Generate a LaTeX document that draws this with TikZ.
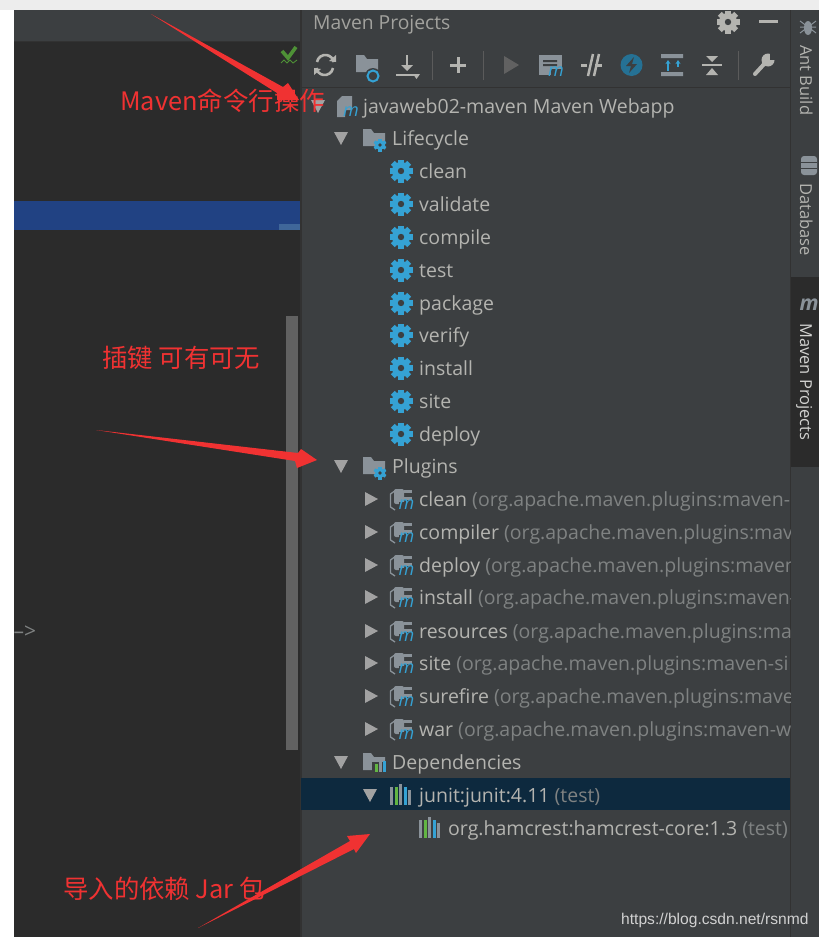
\documentclass[tikz,border=0pt]{standalone}
\usepackage{fontspec}
\setmainfont{Open Sans}
\newfontfamily\cjk{Noto Sans CJK SC}
\newfontfamily\wmfont{Liberation Sans}
\usetikzlibrary{arrows.meta,positioning}
\definecolor{panelbg}{HTML}{3C3F41}
\definecolor{editorbg}{HTML}{2B2B2B}
\definecolor{seam}{HTML}{323232}
\definecolor{rowtxt}{HTML}{B4B4B0}
\definecolor{dimtxt}{HTML}{7F8282}
\definecolor{iconblue}{HTML}{35A2D4}
\definecolor{icongrey}{HTML}{8A9299}
\definecolor{trigrey}{HTML}{A2A2A2}
\definecolor{bargreen}{HTML}{62B543}
\definecolor{arrowred}{HTML}{F03232}
\definecolor{linehl}{HTML}{214283}
\definecolor{rowsel}{HTML}{0D293E}
\tikzset{
    rowlabel/.style={anchor=base west, inner sep=0pt, text=rowtxt, font=\fontsize{19.5}{24}\selectfont},
    sidelabel/.style={anchor=base west, inner sep=0pt, rotate=-90, text=#1, font=\fontsize{16.5}{20}\selectfont},
    note/.style={anchor=base west, inner sep=0pt, text=arrowred, font=\cjk\fontsize{25.4}{30}\selectfont},
    mletter/.style={inner sep=0pt, text=iconblue, font=\fontsize{18}{18}\selectfont\itshape},
    downtri/.pic={\fill[trigrey] (-7,-6) -- (7,-6) -- (0,7) -- cycle;},
    righttri/.pic={\fill[trigrey] (-6,-7) -- (7,0) -- (-6,7) -- cycle;},
    gearicon/.pic={
        \foreach \a in {0,45,...,315}
            \fill[#1,rotate=\a] (-2.7,-11.5) rectangle (2.7,0);
        \fill[#1] (0,0) circle (9);
        \fill[panelbg] (0,0) circle (3.2);
    },
    foldericon/.pic={
        \fill[icongrey] (-11,-9) -- (-3,-9) -- (0,-5) -- (11,-5) -- (11,8) -- (-11,8) -- cycle;
    },
    minigear/.pic={
        \foreach \a in {0,60,120}
            \fill[iconblue,rotate=\a] (-1.6,-6.5) rectangle (1.6,6.5);
        \fill[iconblue] (0,0) circle (5);
        \fill[panelbg] (0,0) circle (1.8);
    },
    plugicon/.pic={
        \draw[icongrey,line width=1.3] (-5,-9) -- (-10.5,-5) -- (-10.5,8) -- (-6,11);
        \fill[icongrey,rounded corners=2] (-7,-10) rectangle (3,5);
        \fill[icongrey] (3,-9) rectangle (11,-6.5);
        \fill[icongrey] (3,-2) rectangle (11,0.5);
        \fill[panelbg] (-2,3) rectangle (14,13);
        \node[mletter] (-m) at (5.5,6) {m};
    },
    barsicon/.pic={
        \fill[icongrey] (-11,-8) rectangle (-8,10);
        \fill[bargreen] (-6.5,-8) rectangle (-3.5,10);
        \fill[icongrey] (-2,-11) rectangle (1,10);
        \fill[iconblue] (2.5,-8) rectangle (5.5,10);
        \fill[icongrey] (7,-5) rectangle (10,10);
    },
}
\begin{document}
\begin{tikzpicture}[x=1pt,y=-1pt]
    \useasboundingbox (0,0) rectangle (819,937);
    \fill[white] (0,0) rectangle (819,937);
    \fill[black!7] (0,0) rectangle (819,10);
    \fill[panelbg] (14,10) rectangle (819,937);
    \fill[editorbg] (14,42) rectangle (300,937);
    \fill[seam] (14,41) rectangle (300,42);
    \fill[seam] (300,10) rectangle (301.5,937);
    \fill[seam] (790,10) rectangle (791,937);
    \fill[seam] (301,87) rectangle (790,88);
    \fill[editorbg] (791,277) rectangle (819,467);
    \fill[linehl] (14,201) rectangle (300,230);
    \fill[cyan!50!blue!70!black] (279,224) rectangle (300,230);
    \fill[black!62] (286,316) rectangle (298,750);
    \fill[rowsel] (301,778) rectangle (790,810);

    % editor marks
    \draw[bargreen!80!black,line width=3.6] (282,51) -- (288,58) -- (296,47);
    \draw[bargreen!80!black,line width=.9] (281,63) -- (284,60) -- (287,63) -- (290,60) -- (293,63) -- (297,60);
    \node[inner sep=0pt, text=dimtxt, font=\fontsize{21}{24}\selectfont] (stub) at (25,632) {-->};

    % title bar
    \node[rowlabel, text=rowtxt!90!black, font=\fontsize{19.3}{23}\selectfont] (title) at (313,29) {Maven Projects};
    \pic at (728,22) {gearicon=rowtxt};
    \fill[rowtxt] (759,19.5) rectangle (778,22.5);

    % toolbar
    \draw[rowtxt,line width=2.6] (317,62) arc (190:350:8.5) (333,68) arc (10:170:8.5);
    \fill[rowtxt] (329,61) -- (336,55) -- (336,62) -- cycle (321,69) -- (314,75) -- (314,68) -- cycle;
    \pic at (367,64) {foldericon};
    \fill[panelbg] (373,76) circle (8);
    \draw[iconblue,line width=2] (373,76) circle (5.5);
    \draw[rowtxt,line width=2.5] (407,55) -- (407,69) (396,75) -- (416,75);
    \fill[rowtxt] (401,65) -- (413,65) -- (407,71) -- cycle (413,74) -- (420,74) -- (416.5,79) -- cycle;
    \draw[seam!80!white,line width=1] (432,51) -- (432,80) (483,51) -- (483,80) (738,51) -- (738,80);
    \draw[rowtxt,line width=3] (458,57) -- (458,73) (450,65) -- (466,65);
    \fill[black!62] (504,56) -- (519,65) -- (504,74) -- cycle;
    \fill[icongrey] (539,55) rectangle (562,75);
    \fill[panelbg] (543,60) rectangle (557,62) (543,64) rectangle (557,66);
    \fill[panelbg] (551,69) rectangle (565,80);
    \node[mletter] (docm) at (556,72) {m};
    \draw[rowtxt,line width=3] (581,65) -- (587,65) (595,65) -- (602,65);
    \draw[rowtxt,line width=2.5] (588,76) -- (593,54) (594,76) -- (599,54);
    \fill[iconblue!70!black] (631.5,65) circle (11);
    \fill[panelbg] (634,57) -- (626,66) -- (631,66) -- (629,73) -- (637,64) -- (632,64) -- cycle;
    \fill[icongrey] (661,54) rectangle (683,58) (661,72) rectangle (683,76);
    \draw[iconblue,line width=1.6,-{Stealth[length=4pt,width=5pt]}] (668,71) -- (668,60);
    \draw[iconblue,line width=1.6,-{Stealth[length=4pt,width=5pt]}] (678,67) -- (678,60);
    \draw[rowtxt,line width=2] (702,65) -- (722,65);
    \fill[rowtxt] (706,56) -- (718,56) -- (712,62) -- cycle (706,75) -- (718,75) -- (712,68) -- cycle;
    \draw[rowtxt,line width=4,line cap=round] (755,74) -- (766,62);
    \fill[rowtxt] (768,60) circle (6.5);
    \fill[panelbg] (770,53) -- (777,53) -- (777,60) -- (770,60) -- cycle;

    % tree, root and groups
    \pic at (318,106) {downtri};
    \fill[icongrey] (342,96) -- (352,96) -- (352,110) -- (345,110) -- (345,117) -- (337,117) -- (337,101) -- cycle;
    \node[mletter] (rootm) at (351,112) {m};
    \node[rowlabel] (root) at (363,113) {javaweb02-maven Maven Webapp};
    \pic at (341,138) {downtri};
    \pic at (374,138) {foldericon};
    \pic at (380,145) {minigear};
    \node[rowlabel] (lifecycle) at (392,145) {Lifecycle};
    \pic at (341,466) {downtri};
    \pic at (374,466) {foldericon};
    \pic at (380,473) {minigear};
    \node[rowlabel] (plugins) at (392,473) {Plugins};
    \pic at (341,762) {downtri};
    \pic at (374,762) {foldericon};
    \fill[panelbg] (372,762) rectangle (387,773);
    \fill[bargreen] (375,764) rectangle (377.5,772);
    \fill[icongrey] (379,758) rectangle (381.5,772);
    \fill[iconblue] (383,761) rectangle (385.5,772);
    \node[rowlabel] (deps) at (392,769) {Dependencies};

    % lifecycle rows
    \foreach \goal/\y in {clean/171,validate/204,compile/237,test/270,package/303,verify/335,install/368,site/401,deploy/434} {
        \pic at (401,\y) {gearicon=iconblue};
        \node[rowlabel] (goal\goal) at (419,\y+7) {\goal};
    }

    % plugin rows
    \begin{scope}
        \clip (301,480) rectangle (790,745);
        \foreach \plug/\rest/\y in {clean/maven-/499,compiler/mav/532,deploy/maven/565,install/maven-/597,resources/ma/631,site/maven-si/663,surefire/mave/696,war/maven-w/729} {
            \pic at (371,\y) {righttri};
            \pic at (401,\y) {plugicon};
            \node[rowlabel] (plug\plug) at (419,\y+7) {\plug\ \textcolor{dimtxt}{(org.apache.maven.plugins:\rest}};
        }
    \end{scope}

    % dependency rows
    \pic at (370,795) {downtri};
    \pic at (401,795) {barsicon};
    \node[rowlabel] (junit) at (419,802) {junit:junit:4.11 \textcolor{dimtxt}{(test)}};
    \pic at (430,828) {barsicon};
    \node[rowlabel] (hamcrest) at (448,835) {org.hamcrest:hamcrest-core:1.3 \textcolor{dimtxt}{(test)}};

    % side tabs
    \fill[icongrey] (808,28) ellipse (4 and 7);
    \draw[icongrey,line width=1] (800,21) -- (816,33) (800,33) -- (816,21) (800,27) -- (816,27);
    \node[sidelabel=rowtxt] (antbuild) at (800,45) {Ant Build};
    \fill[icongrey,rounded corners=3] (801,156) rectangle (817,175);
    \draw[panelbg,line width=1] (801,162) -- (817,162) (801,168) -- (817,168);
    \node[sidelabel=rowtxt] (database) at (800,183) {Database};
    \node[inner sep=0pt, text=icongrey, font=\bfseries\itshape\fontsize{21}{21}\selectfont] (tabm) at (809,305) {m};
    \node[sidelabel=rowtxt!60!white] (mavenprojects) at (800,323) {Maven Projects};

    % red notes
    \coordinate (toptail) at (151,14);
    \coordinate (toptip) at (299,100);
    \coordinate (midtail) at (96,430);
    \coordinate (midtip) at (317,460);
    \coordinate (lowtail) at (198,928);
    \coordinate (lowtip) at (370,834);
    \fill[arrowred] (toptail) -- (283,87) -- (288,83) -- (toptip) -- (277,100) -- (277,93) -- cycle;
    \fill[arrowred] (midtail) -- (298,453) -- (301,449) -- (midtip) -- (297,468) -- (295,461) -- cycle;
    \fill[arrowred] (lowtail) -- (350,841) -- (347,836) -- (lowtip) -- (356,853) -- (354,849) -- cycle;
    \node[note] (mvnnote) at (120,110) {Maven命令行操作};
    \node[note] (plugnote) at (102,367) {插键 可有可无};
    \node[note] (depnote) at (63,898) {导入的依赖 Jar 包};

    \node[anchor=base west, inner sep=0pt, text=black!18, font=\wmfont\fontsize{15.6}{19}\selectfont] (watermark) at (621,924) {https://blog.csdn.net/rsnmd};
\end{tikzpicture}
\end{document}
